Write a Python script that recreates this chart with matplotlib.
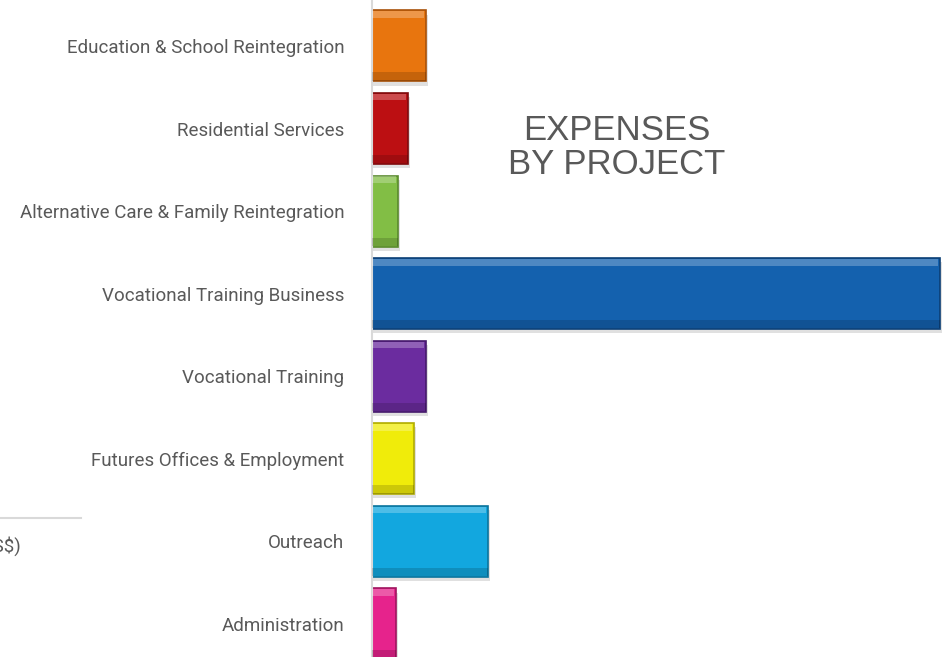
import matplotlib
matplotlib.use('Agg')
import matplotlib.pyplot as plt
from matplotlib.lines import Line2D
import numpy as np

# expenses by project (approx, thousand US$)
projects = ['Education & School Reintegration', 'Residential Services',
            'Alternative Care & Family Reintegration', 'Vocational Training Business',
            'Vocational Training', 'Futures Offices & Employment', 'Outreach', 'Administration']
expenses = [54, 36, 26, 568, 54, 42, 116, 24]
colors = ['#E8750E', '#BC0F12', '#82BE45', '#1461AE', '#6B2C9F', '#F0EC0A', '#12A7DF', '#E6238C']
edge_colors = ['#A8520A', '#7E0A0C', '#5A8A2E', '#0C3F75', '#45196B', '#B0AC05', '#0B749C', '#A0155F']

plt.rcParams['font.family'] = ['Roboto', 'DejaVu Sans']
text_gray = '#595959'

fig = plt.figure(figsize=(9.43, 6.57), dpi=100)
ax = fig.add_axes([372 / 943, 0, 571 / 943, 1])

y = np.arange(len(projects))
h = 0.86

# soft shadow, body, then bevel highlights
ax.barh(y + 0.05, np.array(expenses) + 2, height=h, color='#000000', alpha=0.12, zorder=1)
ax.barh(y, expenses, height=h, color=colors, edgecolor=edge_colors, linewidth=1.2, zorder=2)
ax.barh(y - h / 2 + 0.05, np.array(expenses) - 2, height=0.08, color='white', alpha=0.25, zorder=3)
ax.barh(y + h / 2 - 0.06, expenses, height=0.1, color='black', alpha=0.15, zorder=3)

ax.set_xlim(0, 571)
ax.set_ylim(7.40, -0.557)
ax.set_yticks(y)
ax.set_yticklabels(projects, fontsize=13.5, color=text_gray)
ax.tick_params(axis='y', length=0, pad=20)
ax.set_xticks([])
for side in ['top', 'right', 'bottom']:
    ax.spines[side].set_visible(False)
ax.spines['left'].set_color('#d9d9d9')
ax.spines['left'].set_linewidth(1.5)

ax.text(617 - 372, 1.23, 'EXPENSES\nBY PROJECT', ha='center', va='center',
        fontsize=25, color=text_gray, family=['Liberation Sans', 'DejaVu Sans'], linespacing=1.05)

# leftover bits of a neighbouring chart on the slide
fig.add_artist(Line2D([0, 81 / 943], [1 - 518 / 657, 1 - 518 / 657], color='#d9d9d9', linewidth=1.5))
fig.text(22 / 943, 1 - 546 / 657, '(US$)', ha='right', va='center', fontsize=13.5,
         color=text_gray)

fig.savefig('out.png', dpi=100)
